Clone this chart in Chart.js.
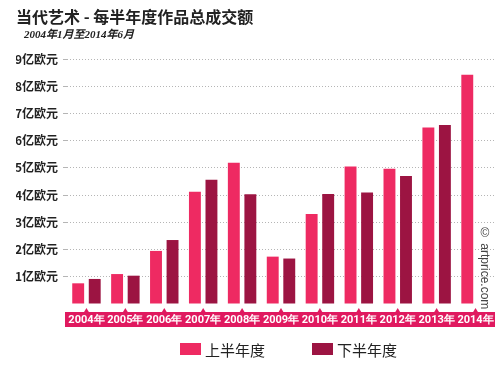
<!DOCTYPE html>
<html>
<head>
<meta charset="utf-8">
<script src="https://cdn.jsdelivr.net/npm/chart.js@4.4.1/dist/chart.umd.min.js"></script>
<style>
  body { margin: 0; background: #fff; }
  #wrap { position: relative; width: 500px; height: 365px; overflow: hidden; }
  #title { position: absolute; left: 16px; top: 4px; font: bold 16px "Noto Sans CJK SC", sans-serif; color: #222; white-space: nowrap; }
  #subtitle { position: absolute; left: 24px; top: 25px; font: italic bold 11px "Liberation Serif", "Noto Sans CJK SC", serif; color: #222; white-space: nowrap; }
  #credit { position: absolute; left: 478px; top: 226px; font: 12px "Liberation Sans", sans-serif; color: #444; writing-mode: vertical-rl; white-space: nowrap; }
  #legend { position: absolute; top: 340px; left: 0; width: 500px; font: 15px "Noto Sans CJK SC", sans-serif; color: #222; }
  .item { position: absolute; top: 0; display: flex; align-items: center; height: 18px; }
  .sw { width: 21px; height: 12px; margin-right: 4px; }
</style>
</head>
<body>
<div id="wrap">
  <canvas id="dataChart" width="500" height="365"></canvas>
  <div id="title">当代艺术 - 每半年度作品总成交额</div>
  <div id="subtitle">2004年1月至2014年6月</div>
  <div id="credit">© artprice.com</div>
  <div id="legend"></div>
</div>
<script>
const years = ["2004年", "2005年", "2006年", "2007年", "2008年", "2009年", "2010年", "2011年", "2012年", "2013年", "2014年"];
const firstHalf = [0.76, 1.10, 1.95, 4.12, 5.19, 1.74, 3.31, 5.05, 4.97, 6.48, 8.42];
const secondHalf = [0.92, 1.04, 2.35, 4.56, 4.03, 1.67, 4.04, 4.10, 4.70, 6.58, null];
const seriesNames = ["上半年度", "下半年度"];
const yTicks = [1, 2, 3, 4, 5, 6, 7, 8, 9];

const pink = "#ee2a62";
const maroon = "#9c1442";
const bandColor = "#e0195f";

// pink band + small markers under the x axis
const bandPlugin = {
  id: "band",
  beforeDraw(chart) {
    const { ctx, chartArea } = chart;
    const x = chart.scales.x;
    ctx.save();
    ctx.fillStyle = bandColor;
    ctx.fillRect(chartArea.left - 2, chartArea.bottom + 8, chartArea.right - chartArea.left + 2, 15);
    years.forEach((y, i) => {
      const cx = x.getPixelForValue(i);
      ctx.beginPath();
      ctx.moveTo(cx - 3, chartArea.bottom + 9);
      ctx.lineTo(cx, chartArea.bottom + 4);
      ctx.lineTo(cx + 3, chartArea.bottom + 9);
      ctx.fill();
    });
    ctx.restore();
  }
};

const ctx = document.getElementById("dataChart").getContext("2d");
const myChart = new Chart(ctx, {
  type: "bar",
  data: {
    labels: years,
    datasets: [
      { label: seriesNames[0], data: firstHalf, backgroundColor: pink },
      { label: seriesNames[1], data: secondHalf, backgroundColor: maroon }
    ]
  },
  options: {
    responsive: false,
    animation: false,
    layout: { padding: { left: 16, right: 5, top: 59, bottom: 35 } },
    datasets: {
      bar: { categoryPercentage: 0.85, barPercentage: 0.72 }
    },
    plugins: {
      legend: { display: false },
      tooltip: { enabled: false }
    },
    scales: {
      x: {
        grid: { display: false },
        border: { display: false },
        ticks: {
          color: "#fff",
          padding: 2,
          maxRotation: 0,
          autoSkip: false,
          font: { family: "'Liberation Sans Narrow', 'Roboto', sans-serif", size: 11, weight: "bold" }
        },
        afterFit(scale) { scale.height = 26; }
      },
      y: {
        min: 0,
        max: 9,
        border: { display: false },
        grid: {
          color: (c) => (c.tick && c.tick.value === 0 ? "rgba(0,0,0,0)" : "#b5b5b5"),
          tickLength: 4,
          lineWidth: 1
        },
        ticks: {
          stepSize: 1,
          padding: 5,
          color: "#222",
          font: { family: "'Noto Sans CJK SC', sans-serif", size: 12, weight: "bold" },
          callback: (v) => (yTicks.includes(v) ? v + "亿欧元" : "")
        },
        afterFit(scale) { scale.width = 51; }
      }
    }
  },
  plugins: [bandPlugin]
});

// dotted gridlines
myChart.options.scales.y.grid.borderDash = [1, 2];
myChart.options.scales.y.border.dash = [1, 2];
myChart.update();

// legend
const legend = document.getElementById("legend");
const legendPos = [180, 312];
seriesNames.forEach((name, i) => {
  const item = document.createElement("div");
  item.className = "item";
  item.style.left = legendPos[i] + "px";
  item.innerHTML = '<span class="sw" style="background:' + (i === 0 ? pink : maroon) + '"></span>' + name;
  legend.appendChild(item);
});
</script>
</body>
</html>
